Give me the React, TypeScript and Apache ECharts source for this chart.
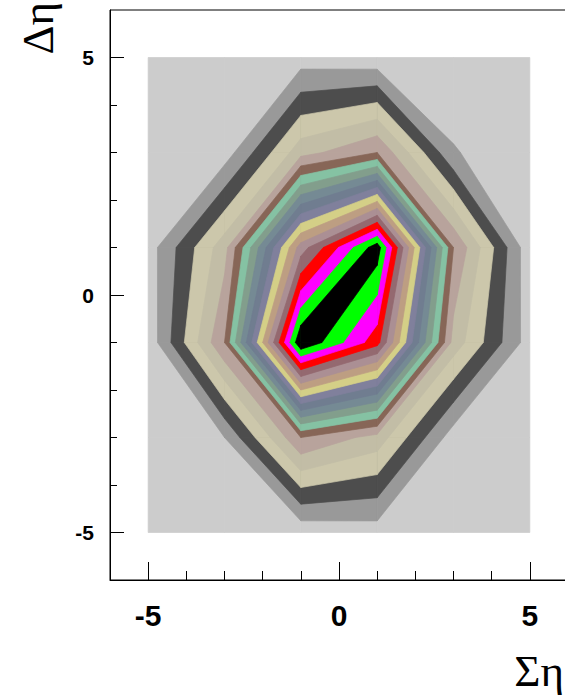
import { useEffect, useRef } from "react";
import * as echarts from "echarts";

// Grid nodes of the sampled surface (bin centres)
const xNodes = [-5, -3, -1, 1, 3, 5];
const yNodes = [5, 3, 1, -1, -3, -5];

// Surface height at each node, one row per entry of yNodes (columns follow xNodes)
const zRowY5 = [0, 0, 0.5, 0.3, 0, 0];
const zRowY3 = [0, 0.46, 4.6, 6.0, 1.1, 0];
const zRowY1 = [0.5, 4.6, 14.5, 19.6, 6.0, 0.3];
const zRowYm1 = [0.3, 6.0, 20.0, 16.4, 4.6, 0.5];
const zRowYm3 = [0, 1.0, 6.0, 4.6, 0.46, 0];
const zRowYm5 = [0, 0, 0.3, 0.5, 0, 0];
const zRows = [zRowY5, zRowY3, zRowY1, zRowYm1, zRowYm3, zRowYm5];

// Contour levels (lower edge of each colour band) and band colours
const contourLevels = [0, 1, 2, 3, 4, 5, 6, 7, 8, 9, 10, 11, 12, 13, 14, 15, 16, 17, 18, 19];
const bandColors = [
  "#cccccc", "#999999", "#4d4d4d", "#ccc7ab", "#c2bda6",
  "#b8a39c", "#876657", "#85c2a3", "#829e8c", "#758a94",
  "#707d90", "#80809c", "#d4cf87", "#bd9e82", "#ab8f94",
  "#946970", "#ff0000", "#ff00ff", "#00ff00", "#000000",
];

const xMajorTicks = [-5, 0, 5];
const xMinorTicks = [-4, -3, -2, -1, 1, 2, 3, 4];
const yMajorTicks = [-5, 0, 5];
const yMinorTicks = [-4, -3, -2, -1, 1, 2, 3, 4];

const LABEL_FONT = '"Liberation Sans", Arial, Helvetica, sans-serif';
const TITLE_FONT = '"Liberation Serif", "Times New Roman", serif';

type P = { x: number; y: number; z: number };

// Keep the part of a cell polygon where z >= level (linear along the edges)
function clipAbove(poly: P[], level: number): P[] {
  const out: P[] = [];
  for (let n = 0; n < poly.length; n++) {
    const a = poly[n];
    const b = poly[(n + 1) % poly.length];
    const aIn = a.z >= level;
    const bIn = b.z >= level;
    if (aIn) out.push(a);
    if (aIn !== bIn) {
      const t = (level - a.z) / (b.z - a.z);
      out.push({ x: a.x + t * (b.x - a.x), y: a.y + t * (b.y - a.y), z: level });
    }
  }
  return out;
}

// One item per (level, cell), ordered so that every band is painted over the lower ones
const cellItems: number[][] = [];
contourLevels.forEach((_, k) => {
  for (let j = 0; j < yNodes.length - 1; j++) {
    for (let i = 0; i < xNodes.length - 1; i++) {
      cellItems.push([
        (xNodes[i] + xNodes[i + 1]) / 2,
        (yNodes[j] + yNodes[j + 1]) / 2,
        k,
        i,
        j,
      ]);
    }
  }
});

export default function App() {
  const ref = useRef<HTMLDivElement>(null);

  useEffect(() => {
    if (!ref.current) return;
    const chart = echarts.init(ref.current, null, { renderer: "svg" });

    const renderItem = (_params: any, api: any) => {
      const k = api.value(2);
      const i = api.value(3);
      const j = api.value(4);
      const cell: P[] = [
        { x: xNodes[i], y: yNodes[j], z: zRows[j][i] },
        { x: xNodes[i + 1], y: yNodes[j], z: zRows[j][i + 1] },
        { x: xNodes[i + 1], y: yNodes[j + 1], z: zRows[j + 1][i + 1] },
        { x: xNodes[i], y: yNodes[j + 1], z: zRows[j + 1][i] },
      ];
      const part = clipAbove(cell, contourLevels[k]);
      if (part.length < 3) return null;
      const color = bandColors[k];
      return {
        type: "polygon",
        shape: { points: part.map((p) => api.coord([p.x, p.y])) },
        style: { fill: color, stroke: color, lineWidth: 0.7 },
      };
    };

    const axisBase = {
      type: "value" as const,
      min: -6,
      max: 6,
      splitLine: { show: false },
    };

    chart.setOption({
      animation: false,
      backgroundColor: "#ffffff",
      grid: {
        left: 110,
        top: 10,
        width: 458,
        height: 570,
        show: true,
        borderColor: "#000000",
        borderWidth: 1,
        backgroundColor: "transparent",
        z: 5,
      },
      xAxis: [
        {
          ...axisBase,
          position: "bottom",
          axisLine: { show: true, onZero: false, lineStyle: { color: "#000", width: 1 } },
          axisTick: {
            show: true,
            inside: true,
            length: 18,
            customValues: xMajorTicks,
            lineStyle: { color: "#000", width: 1 },
          },
          axisLabel: {
            customValues: xMajorTicks,
            margin: 20,
            color: "#000",
            fontSize: 30,
            fontWeight: "bold",
            fontFamily: LABEL_FONT,
          },
          z: 10,
        },
        {
          ...axisBase,
          position: "bottom",
          axisLine: { show: false, onZero: false },
          axisTick: {
            show: true,
            inside: true,
            length: 9,
            customValues: xMinorTicks,
            lineStyle: { color: "#000", width: 1 },
          },
          axisLabel: { show: false },
          z: 10,
        },
      ],
      yAxis: [
        {
          ...axisBase,
          position: "left",
          axisLine: { show: true, onZero: false, lineStyle: { color: "#000", width: 1 } },
          axisTick: {
            show: true,
            inside: true,
            length: 14,
            customValues: yMajorTicks,
            lineStyle: { color: "#000", width: 1 },
          },
          axisLabel: {
            customValues: yMajorTicks,
            margin: 16,
            color: "#000",
            fontSize: 21,
            fontWeight: "bold",
            fontFamily: LABEL_FONT,
          },
          z: 10,
        },
        {
          ...axisBase,
          position: "left",
          axisLine: { show: false, onZero: false },
          axisTick: {
            show: true,
            inside: true,
            length: 7,
            customValues: yMinorTicks,
            lineStyle: { color: "#000", width: 1 },
          },
          axisLabel: { show: false },
          z: 10,
        },
      ],
      graphic: [
        {
          type: "text",
          x: 564,
          y: 671,
          style: {
            text: "Ση",
            font: `45px ${TITLE_FONT}`,
            fill: "#000",
            textAlign: "right",
            textVerticalAlign: "middle",
          },
        },
        {
          type: "text",
          x: 38,
          y: 2,
          rotation: Math.PI / 2,
          style: {
            text: "Δη",
            font: `45px ${TITLE_FONT}`,
            fill: "#000",
            textAlign: "right",
            textVerticalAlign: "middle",
          },
        },
      ],
      series: [
        {
          type: "custom",
          coordinateSystem: "cartesian2d",
          xAxisIndex: 0,
          yAxisIndex: 0,
          data: cellItems,
          encode: { x: 0, y: 1 },
          renderItem,
          silent: true,
          clip: false,
          z: 1,
        },
      ],
    });

    return () => chart.dispose();
  }, []);

  return (
    <div style={{ position: "fixed", left: 0, top: 0, width: 565, height: 695, overflow: "hidden", background: "#fff" }}>
      <div ref={ref} style={{ width: 580, height: 695 }} />
    </div>
  );
}
